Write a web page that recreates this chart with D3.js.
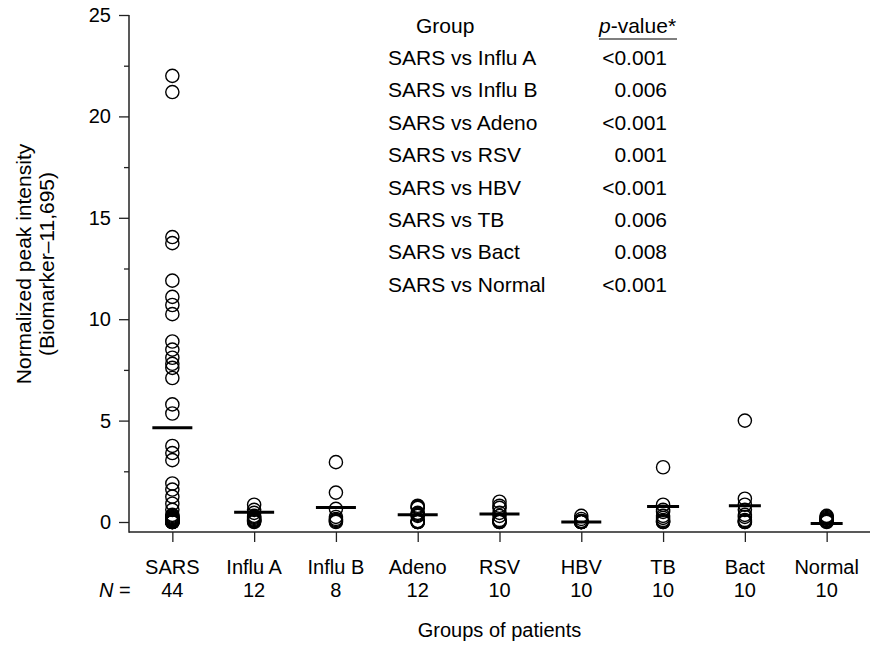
<!DOCTYPE html>
<html>
<head>
<meta charset="utf-8">
<script src="https://cdn.jsdelivr.net/npm/d3@7"></script>
<style>
  body { margin: 0; background: #fff; }
  text { font-family: "Liberation Sans", Arial, sans-serif; fill: #000; }
</style>
</head>
<body>
<div id="chart"></div>
<script>
// Groups and sizes
const groups = ["SARS", "Influ A", "Influ B", "Adeno", "RSV", "HBV", "TB", "Bact", "Normal"];
const groupN = [44, 12, 8, 12, 10, 10, 10, 10, 10];

// Normalized peak intensity per patient
const sarsValues = [22.0, 21.2, 14.05, 13.75, 11.9, 11.1, 10.7, 10.25, 8.9, 8.5, 8.1, 7.8, 7.6, 7.1,
                    5.8, 5.35, 3.75, 3.4, 3.05, 1.9, 1.6, 1.25, 0.9, 0.6, 0.35, 0.3, 0.25, 0.2,
                    0.2, 0.15, 0.15, 0.1, 0.1, 0.1, 0.1, 0.05, 0.05, 0.05, 0.05, 0.0, 0.0, 0.0, 0.0, 0.0];
const influAValues = [0.85, 0.6, 0.45, 0.3, 0.25, 0.2, 0.15, 0.1, 0.1, 0.05, 0.05, 0.0];
const influBValues = [2.95, 1.45, 0.65, 0.25, 0.15, 0.1, 0.05, 0.0];
const adenoValues = [0.8, 0.75, 0.7, 0.45, 0.4, 0.35, 0.3, 0.05, 0.05, 0.0, 0.0, 0.0];
const rsvValues = [1.0, 0.8, 0.7, 0.45, 0.3, 0.1, 0.05, 0.05, 0.0, 0.0];
const hbvValues = [0.3, 0.15, 0.05, 0.05, 0.0, 0.0, 0.0, 0.0, 0.0, 0.0];
const tbValues = [2.7, 0.85, 0.6, 0.5, 0.3, 0.2, 0.1, 0.05, 0.0, 0.0];
const bactValues = [5.0, 1.15, 0.85, 0.6, 0.35, 0.25, 0.1, 0.05, 0.0, 0.0];
const normalValues = [0.3, 0.25, 0.2, 0.15, 0.1, 0.1, 0.05, 0.05, 0.05, 0.0];
const groupValues = [sarsValues, influAValues, influBValues, adenoValues, rsvValues,
                     hbvValues, tbValues, bactValues, normalValues];

// Horizontal bars as drawn in the figure
const groupMeans = [4.65, 0.48, 0.72, 0.36, 0.4, 0.0, 0.76, 0.8, -0.08];

const yTicks = [0, 5, 10, 15, 20, 25];
const yMinorTicks = [2.5, 7.5, 12.5, 17.5, 22.5];

// p-value table
const comparisons = ["SARS vs Influ A", "SARS vs Influ B", "SARS vs Adeno", "SARS vs RSV",
                     "SARS vs HBV", "SARS vs TB", "SARS vs Bact", "SARS vs Normal"];
const pValues = ["<0.001", "0.006", "<0.001", "0.001", "<0.001", "0.006", "0.008", "<0.001"];

const width = 870, height = 646;
const axisX = 129, axisY = 532;

const svg = d3.select("#chart").append("svg")
    .attr("width", width)
    .attr("height", height);

const x = d3.scalePoint()
    .domain(groups)
    .range([axisX, width])
    .padding(0.53);

const y = d3.scaleLinear()
    .domain([0, 25])
    .range([522, 15]);

// y axis: minor ticks then labelled ticks
svg.append("g")
    .attr("transform", `translate(${axisX},0)`)
    .call(d3.axisLeft(y).tickValues(yMinorTicks).tickSize(5).tickFormat(""))
    .call(g => g.select(".domain").remove())
    .call(g => g.selectAll("line").attr("stroke", "#222").attr("stroke-width", 1.3));

svg.append("g")
    .attr("transform", `translate(${axisX},0)`)
    .call(d3.axisLeft(y).tickValues(yTicks).tickSize(10).tickPadding(8))
    .call(g => g.select(".domain").remove())
    .call(g => g.selectAll("line").attr("stroke", "#222").attr("stroke-width", 1.3))
    .call(g => g.selectAll("text")
        .style("font-family", '"Liberation Sans", Arial, sans-serif')
        .style("font-size", "20px")
        .attr("fill", "#000"));

svg.append("line")
    .attr("x1", axisX).attr("x2", axisX)
    .attr("y1", y(25)).attr("y2", axisY + 0.7)
    .attr("stroke", "#222").attr("stroke-width", 1.5);

// x axis
svg.append("g")
    .attr("transform", `translate(0,${axisY})`)
    .call(d3.axisBottom(x).tickSize(10).tickFormat(""))
    .call(g => g.select(".domain").remove())
    .call(g => g.selectAll("line").attr("stroke", "#222").attr("stroke-width", 1.3));

svg.append("line")
    .attr("x1", axisX).attr("x2", width)
    .attr("y1", axisY).attr("y2", axisY)
    .attr("stroke", "#222").attr("stroke-width", 1.5);

// group labels and N
const labels = svg.append("g").style("font-size", "20px");
labels.selectAll(".glabel")
    .data(groups)
    .join("text")
        .attr("class", "glabel")
        .attr("x", d => x(d))
        .attr("y", 574)
        .attr("text-anchor", "middle")
        .text(d => d);

labels.selectAll(".nlabel")
    .data(groups)
    .join("text")
        .attr("class", "nlabel")
        .attr("x", d => x(d))
        .attr("y", 597)
        .attr("text-anchor", "middle")
        .text((d, i) => groupN[i]);

const nText = labels.append("text")
    .attr("x", 99)
    .attr("y", 597);
nText.append("tspan").style("font-style", "italic").text("N");
nText.append("tspan").text(" =");

// axis titles
svg.append("text")
    .attr("x", x(groups[4]))
    .attr("y", 637)
    .attr("text-anchor", "middle")
    .style("font-size", "20px")
    .text("Groups of patients");

svg.append("text")
    .attr("transform", "translate(31,264) rotate(-90)")
    .attr("text-anchor", "middle")
    .style("font-size", "21px")
    .text("Normalized peak intensity");

svg.append("text")
    .attr("transform", "translate(54,264) rotate(-90)")
    .attr("text-anchor", "middle")
    .style("font-size", "21px")
    .text("(Biomarker\u201311,695)");

// patient points (open circles)
const points = groups.flatMap((g, i) => groupValues[i].map(v => ({ group: g, value: v })));

svg.append("g")
    .selectAll("circle")
    .data(points)
    .join("circle")
        .attr("cx", d => x(d.group))
        .attr("cy", d => y(d.value))
        .attr("r", 6.6)
        .attr("fill", "none")
        .attr("stroke", "#000")
        .attr("stroke-width", 1.4);

// group bars; last three are drawn a bit shorter in the figure
const narrow = new Set(["TB", "Bact", "Normal"]);
svg.append("g")
    .selectAll("line")
    .data(groups)
    .join("line")
        .attr("x1", d => x(d) - (narrow.has(d) ? 16 : 20))
        .attr("x2", d => x(d) + (narrow.has(d) ? 16 : 20))
        .attr("y1", (d, i) => y(groupMeans[i]))
        .attr("y2", (d, i) => y(groupMeans[i]))
        .attr("stroke", "#000")
        .attr("stroke-width", 3);

// p-value table
const table = svg.append("g").style("font-size", "21px");
table.append("text")
    .attr("x", 416)
    .attr("y", 33)
    .text("Group");

const pHead = table.append("text")
    .attr("x", 599)
    .attr("y", 33);
pHead.append("tspan").style("font-style", "italic").text("p");
pHead.append("tspan").text("-value*");

table.append("line")
    .attr("x1", 599).attr("x2", 677)
    .attr("y1", 39).attr("y2", 39)
    .attr("stroke", "#000").attr("stroke-width", 1.2);

table.selectAll(".cmp")
    .data(comparisons)
    .join("text")
        .attr("class", "cmp")
        .attr("x", 388)
        .attr("y", (d, i) => 65 + i * 32.4)
        .text(d => d);

table.selectAll(".pval")
    .data(pValues)
    .join("text")
        .attr("class", "pval")
        .attr("x", 667)
        .attr("y", (d, i) => 65 + i * 32.4)
        .attr("text-anchor", "end")
        .text(d => d);
</script>
</body>
</html>
